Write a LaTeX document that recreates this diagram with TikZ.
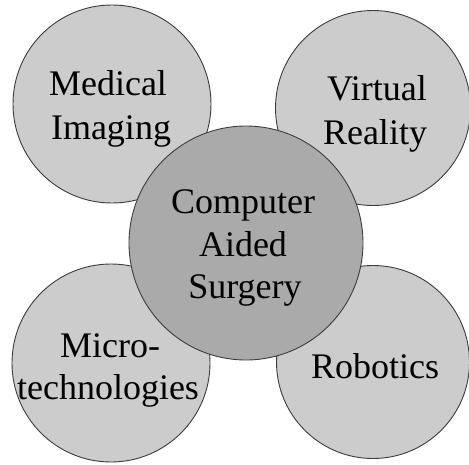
\documentclass[tikz,border=0pt]{standalone}
\usepackage{fontspec}
\setmainfont{Liberation Serif}
\definecolor{outerfill}{RGB}{204,204,204}
\definecolor{innerfill}{RGB}{170,170,170}
\definecolor{rim}{RGB}{60,60,60}
\begin{document}
\begin{tikzpicture}[x=1pt,y=-1pt,
  bubble/.style={circle,draw=rim,line width=0.9pt,fill=outerfill,inner sep=0pt},
  hub/.style={bubble,fill=innerfill},
  word/.style={anchor=base,inner sep=0pt,font=\fontsize{36}{43}\selectfont}]
\useasboundingbox (0,0) rectangle (469,464);
% outer circles
\node[bubble,minimum size=198pt] (med) at (112,104) {};
\node[bubble,minimum size=195pt] (vr) at (373,108) {};
\node[bubble,minimum size=198pt] (mic) at (111,363) {};
\node[bubble,minimum size=193pt] (rob) at (373,362) {};
% central circle
\node[hub,minimum size=234pt] (cas) at (246,243) {};
% labels
\node[word] (med1) at (108,95) {Medical};
\node[word] (med2) at (111,139) {Imaging};
\node[word] (vr1) at (377,100) {Virtual};
\node[word] (vr2) at (375,144) {Reality};
\node[word] (cas1) at (243,213) {Computer};
\node[word] (cas2) at (243,256) {Aided};
\node[word] (cas3) at (245,298) {Surgery};
\node[word] (mic1) at (110,357) {Micro-};
\node[word] (mic2) at (108,399) {technologies};
\node[word] (rob1) at (375,378) {Robotics};
\end{tikzpicture}
\end{document}
